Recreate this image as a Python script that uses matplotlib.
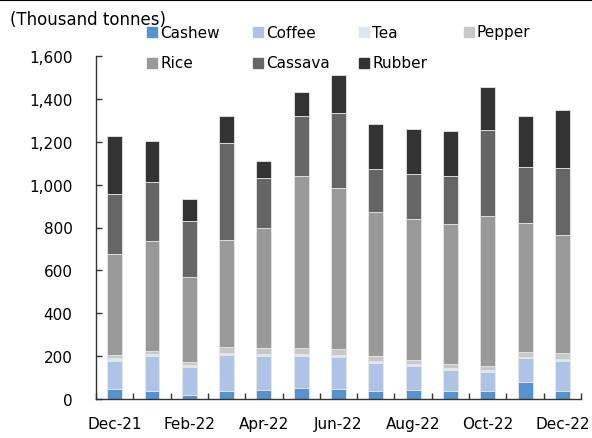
import matplotlib
matplotlib.use("Agg")
import matplotlib.pyplot as plt
import numpy as np
from matplotlib.lines import Line2D
from matplotlib.patches import Rectangle
from matplotlib.ticker import StrMethodFormatter

months = ["Dec-21", "Jan-22", "Feb-22", "Mar-22", "Apr-22", "May-22", "Jun-22",
          "Jul-22", "Aug-22", "Sep-22", "Oct-22", "Nov-22", "Dec-22"]

cashew = [47, 36, 20, 36, 43, 51, 47, 39, 41, 36, 39, 78, 39]
coffee = [131, 166, 131, 171, 159, 151, 149, 127, 114, 101, 85, 112, 139]
tea = [12, 8, 7, 7, 7, 6, 10, 10, 9, 9, 11, 7, 10]
pepper = [15, 15, 13, 27, 27, 28, 27, 23, 19, 17, 17, 21, 26]
rice = [472, 510, 399, 502, 561, 805, 751, 674, 656, 654, 702, 604, 552]
cassava = [280, 279, 261, 452, 235, 280, 351, 201, 211, 224, 402, 261, 311]
rubber = [269, 190, 100, 127, 78, 110, 178, 208, 209, 208, 199, 238, 269]

series = [
    ("Cashew", cashew, "#5592d0"),
    ("Coffee", coffee, "#aec3e6"),
    ("Tea", tea, "#dde6f5"),
    ("Pepper", pepper, "#c8c8c8"),
    ("Rice", rice, "#999999"),
    ("Cassava", cassava, "#666666"),
    ("Rubber", rubber, "#333333"),
]

W, H = 592, 439
fig = plt.figure(figsize=(W / 100, H / 100), dpi=100)
ax = fig.add_axes([96 / W, 39 / H, 485 / W, 343 / H])

x = np.arange(len(months))
bottom = np.zeros(len(months))
for name, vals, color in series:
    vals = np.asarray(vals, dtype=float)
    ax.bar(x, vals, width=0.4, bottom=bottom, color=color,
           edgecolor="#e6e6e6", linewidth=0.6)
    bottom += vals

ax.set_xlim(-0.5, len(months) - 0.5)
ax.set_ylim(0, 1600)
ax.set_yticks(np.arange(0, 1601, 200))
ax.yaxis.set_major_formatter(StrMethodFormatter("{x:,.0f}"))

ax.set_xticks(x[::2])
ax.set_xticklabels(months[::2])
ax.set_xticks(np.arange(-0.5, len(months), 1), minor=True)

for s in ["top", "right"]:
    ax.spines[s].set_visible(False)
for s in ["left", "bottom"]:
    ax.spines[s].set_color("#333333")
    ax.spines[s].set_linewidth(1.0)

ax.tick_params(axis="y", direction="in", length=4, width=1, color="#333333",
               pad=17, labelsize=11)
ax.tick_params(axis="x", which="major", length=0, pad=12, labelsize=11)
ax.tick_params(axis="x", which="minor", direction="in", length=4, width=1,
               color="#333333")

fig.text(10 / W, 1 - 20 / H, "(Thousand tonnes)", fontsize=12, va="center", ha="left")

# legend, 4 columns x 2 rows
col_x = [147, 253, 359, 464]
row_y = [33, 64]
for i, (name, vals, color) in enumerate(series):
    cx = col_x[i % 4]
    cy = row_y[i // 4]
    fig.patches.append(Rectangle((cx / W, 1 - (cy + 5) / H), 10 / W, 10 / H,
                                 transform=fig.transFigure, color=color))
    fig.text((cx + 13) / W, 1 - cy / H, name, fontsize=11, va="center", ha="left")

fig.add_artist(Line2D([0, 1], [1 - 0.7 / H, 1 - 0.7 / H], transform=fig.transFigure,
                      color="black", linewidth=1.5))

fig.savefig("out.png", dpi=100)
